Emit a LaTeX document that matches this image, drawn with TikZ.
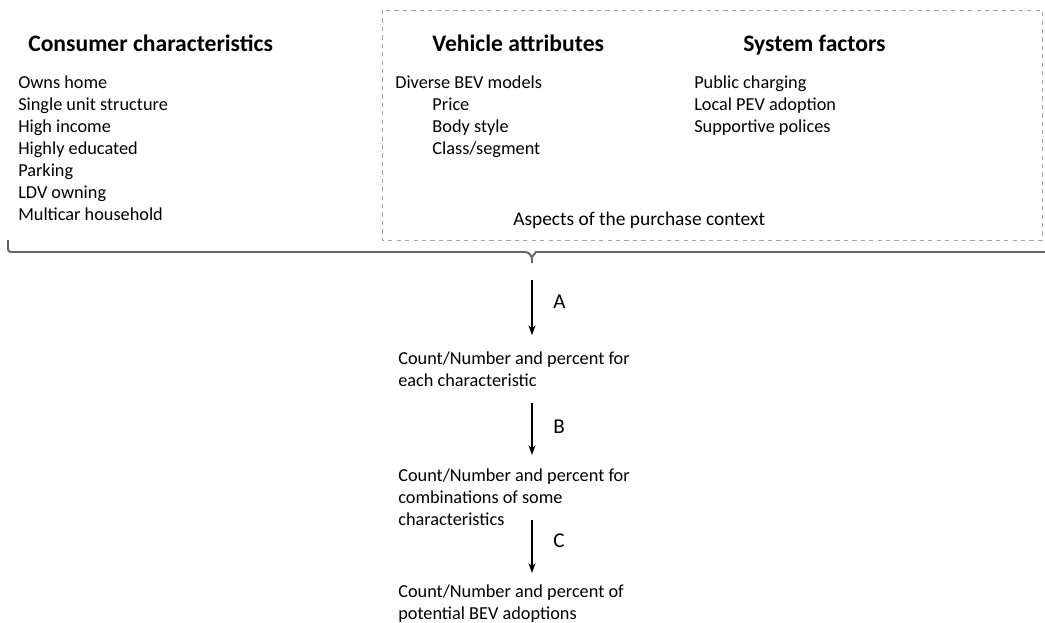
\documentclass[tikz,border=0pt]{standalone}
\usepackage{fontspec}
\setmainfont{Carlito}
\usetikzlibrary{arrows.meta}

\tikzset{
  head/.style = {anchor = base west, inner sep = 0, font = \fontsize{16.8}{20}\selectfont\bfseries},
  items/.style = {anchor = north west, inner sep = 0, align = left, font = \fontsize{13}{15.6}\selectfont},
  steplbl/.style = {anchor = west, inner sep = 0, font = \fontsize{15}{18}\selectfont},
  flow/.style = {line width = 1.3pt, -{Stealth[length = 7pt, width = 5pt]}}
}

\begin{document}
\begin{tikzpicture}[x = 0.025cm, y = -0.025cm]
    \useasboundingbox (0, 0) rectangle (1045, 623);

    % purchase context box
    \draw[gray!70, dashed, line width = 0.6pt] (382, 10) rectangle (1042, 240);
    \node[anchor = base west, inner sep = 0, font = \fontsize{13.8}{17}\selectfont] (context) at (513, 225) {Aspects of the purchase context};

    % the three groups
    \node[head] (consumer) at (28, 52) {Consumer characteristics};
    \node[items] (conslist) at (18, 76) {Owns home\\ Single unit structure\\ High income\\ Highly educated\\ Parking\\ LDV owning\\ Multicar household};

    \node[head] (vehicle) at (432, 52) {Vehicle attributes};
    \node[items] (vehlist) at (395, 76) {Diverse BEV models\\ \hspace*{0.93cm}Price\\ \hspace*{0.93cm}Body style\\ \hspace*{0.93cm}Class/segment};

    \node[head] (system) at (743, 52) {System factors};
    \node[items] (syslist) at (694, 76) {Public charging\\ Local PEV adoption\\ Supportive polices};

    % brace under everything
    \coordinate (tip) at (532, 263);
    \draw[black!60, line width = 1.4pt, rounded corners = 2pt]
      (8, 240) |- (528, 252) -- (532, 257) -- (tip);
    \draw[black!60, line width = 1.4pt] (532, 257) -- (536, 252) -- (1046, 252);

    % results
    \node[items] (count1) at (398, 352) {Count/Number and percent for\\ each characteristic};
    \node[items] (count2) at (398, 469) {Count/Number and percent for\\ combinations of some\\ characteristics};
    \node[items] (count3) at (398, 585) {Count/Number and percent of\\ potential BEV adoptions};

    \draw[flow] ([yshift = -0.42cm]tip) -- ([yshift = 0.42cm]tip |- count1.north);
    \draw[flow] ([yshift = -0.38cm]tip |- count1.south) -- ([yshift = 0.35cm]tip |- count2.north);
    \draw[flow] ([yshift = 0.15cm]tip |- count2.south) -- ([yshift = 0.3cm]tip |- count3.north);

    \node[steplbl] (A) at (553, 302) {A};
    \node[steplbl] (B) at (553, 427) {B};
    \node[steplbl] (C) at (553, 541) {C};
  \end{tikzpicture}
\end{document}
